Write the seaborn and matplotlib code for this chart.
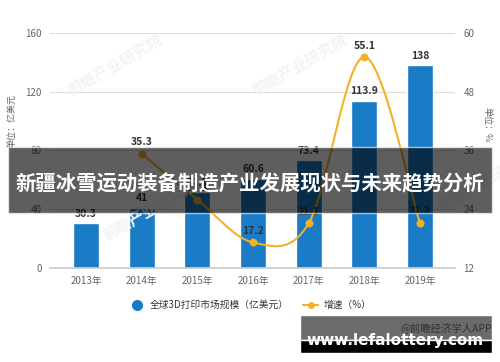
import numpy as np
import pandas as pd
import seaborn as sns
import matplotlib.pyplot as plt
from matplotlib.path import Path
from matplotlib.patches import PathPatch, Rectangle
from matplotlib.lines import Line2D

years = ['2013年', '2014年', '2015年', '2016年', '2017年', '2018年', '2019年']
market = [30.3, 41, 51.7, 60.6, 73.4, 113.9, 138]
growth_years = ['2014年', '2015年', '2016年', '2017年', '2018年', '2019年']
growth = [35.3, 25.9, 17.2, 21.1, 55.1, 21.2]
left_ticks = [0, 40, 80, 120, 160]
right_ticks = [12, 24, 36, 48, 60]

sns.set_theme(style='white')
plt.rcParams['font.family'] = ['Noto Sans CJK SC', 'DejaVu Sans']

blue = '#1a7bc7'
gold = '#f2b128'
grey = '#666666'

fig = plt.figure(figsize=(5, 3.62), dpi=100)
ax = fig.add_axes([0.10, 0.26, 0.81, 0.649])

df = pd.DataFrame({'year': years, 'market': market})
sns.barplot(data=df, x='year', y='market', color=blue, width=0.47, saturation=1, ax=ax, zorder=2)
ax.set_ylim(0, 160)
ax.set_xlim(-0.65, 6.63)
ax.set_yticks(left_ticks)
ax.grid(axis='y', color='#dddddd', linewidth=0.8, zorder=0)
ax.set_xlabel('')
ax.set_ylabel('')
for s in ['top', 'right', 'left']:
    ax.spines[s].set_visible(False)
ax.spines['bottom'].set_color('#cccccc')
ax.tick_params(axis='both', length=0, labelsize=7, colors=grey, pad=6)
for i, v in enumerate(market):
    ax.text(i, v + 3, f'{v:g}', ha='center', va='bottom', fontsize=7.5,
            fontweight='bold', color='#333333', zorder=5)

ax2 = ax.twinx()
ax2.set_ylim(12, 60)
ax2.set_yticks(right_ticks)
ax2.tick_params(axis='y', length=0, labelsize=7, colors=grey, pad=6)
for s in ax2.spines.values():
    s.set_visible(False)
ax2.grid(False)

# smooth curve through the growth points (catmull-rom as bezier)
gx = np.array([years.index(y) for y in growth_years], dtype=float)
gy = np.array(growth, dtype=float)
pts = np.column_stack([gx, gy])
verts = [pts[0]]
codes = [Path.MOVETO]
for i in range(len(pts) - 1):
    p0 = pts[i - 1] if i > 0 else pts[i]
    p3 = pts[i + 2] if i + 2 < len(pts) else pts[i + 1]
    c1 = pts[i] + (pts[i + 1] - p0) / 6
    c2 = pts[i + 1] - (p3 - pts[i]) / 6
    verts += [c1, c2, pts[i + 1]]
    codes += [Path.CURVE4] * 3
ax2.add_patch(PathPatch(Path(verts, codes), fill=False, edgecolor=gold, linewidth=1.5, zorder=3))
sns.scatterplot(x=gx, y=gy, color=gold, s=28, edgecolor=gold, ax=ax2, zorder=4)
for x, v in zip(gx, gy):
    ax2.text(x, v + 1.3, f'{v:g}', ha='center', va='bottom', fontsize=7.5,
             fontweight='bold', color='#333333', zorder=5)

fig.text(0.024, 0.665, '单位：亿美元', rotation=90, fontsize=6.5, color=grey, ha='center', va='center')
fig.text(0.974, 0.655, '单位：%', rotation=270, fontsize=6.5, color=grey, ha='center', va='center')

# faint watermarks
for wx, wy in [(0.23, 0.82), (0.60, 0.82), (0.30, 0.42), (0.97, 0.50)]:
    fig.text(wx, wy, '前瞻产业研究院', rotation=30, fontsize=11, fontweight='bold',
             color='#f1f3f5', ha='center', va='center', zorder=0)

handles = [Line2D([], [], marker='o', linestyle='', color=blue, markersize=7),
           Line2D([], [], marker='o', color=gold, markersize=4, linewidth=1.5)]
fig.legend(handles, ['全球3D打印市场规模（亿美元）', '增速（%）'], loc='center',
           bbox_to_anchor=(0.5, 0.157), ncol=2, frameon=False, fontsize=7,
           handlelength=1.6, columnspacing=1.5, handletextpad=0.5,
           labelcolor='#333333')

# title banner overlay
fig.patches.append(Rectangle((0.016, 0.412), 0.968, 0.182, transform=fig.transFigure,
                             facecolor='black', alpha=0.63, zorder=10))
fig.text(0.5, 0.492, '新疆冰雪运动装备制造产业发展现状与未来趋势分析', ha='center', va='center',
         fontsize=14.7, fontweight='bold', color='white', zorder=11)

# site watermark box
fig.patches.append(Rectangle((0.6, 0.061), 0.384, 0.069, transform=fig.transFigure,
                             facecolor='#6b6b6b', zorder=10))
fig.patches.append(Rectangle((0.6, 0.025), 0.384, 0.037, transform=fig.transFigure,
                             facecolor='black', zorder=10))
fig.text(0.984, 0.095, '@前瞻经济学人APP', ha='right', va='center', fontsize=7.5,
         color='#333333', zorder=11)
fig.text(0.79, 0.06, 'www.lefalottery.com', ha='center', va='center', fontsize=11,
         fontweight='bold', color='white', family=['DejaVu Sans'], zorder=12)

fig.savefig('out.png', dpi=100)
